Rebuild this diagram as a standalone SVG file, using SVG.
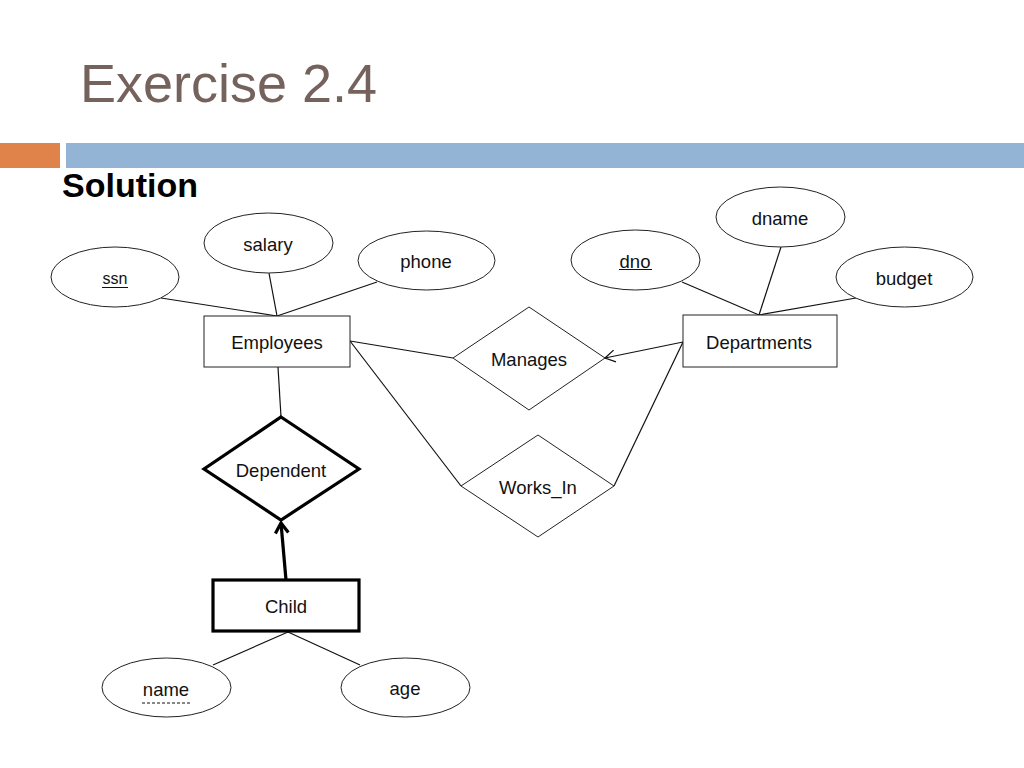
<svg xmlns="http://www.w3.org/2000/svg" width="1024" height="768" viewBox="0 0 1024 768">
<style>
.t{font-family:"Liberation Sans",Arial,sans-serif;font-size:18.5px;fill:#111;text-anchor:middle;dominant-baseline:central}
.n{fill:#fff;stroke:#222;stroke-width:1}
.k{fill:#fff;stroke:#000;stroke-width:3.2}
.c{stroke:#111;stroke-width:1.2;fill:none}
.ck{stroke:#000;stroke-width:3.2;fill:none}
</style>
<defs>
<marker id="av" markerUnits="userSpaceOnUse" markerWidth="20" markerHeight="20" refX="10" refY="10" orient="auto" viewBox="0 0 20 20" overflow="visible">
<path d="M0 4 L10 10 L0 16" fill="none" stroke="#111" stroke-width="1.3"/>
</marker>
<marker id="avk" markerUnits="userSpaceOnUse" markerWidth="24" markerHeight="24" refX="11" refY="12" orient="auto" viewBox="0 0 24 24" overflow="visible">
<path d="M1 5.5 L11 12 L1 18.5" fill="none" stroke="#000" stroke-width="3.2"/>
</marker>
</defs>
<rect width="1024" height="768" fill="#fff"/>
<text x="80" y="102" font-family="Liberation Sans,Arial,sans-serif" font-size="54" fill="#76625c">Exercise 2.4</text>
<rect x="0" y="143" width="60" height="25" fill="#e0834a"/>
<rect x="66" y="143" width="958" height="25" fill="#94b4d6"/>
<text x="62" y="197" font-family="Liberation Sans,Arial,sans-serif" font-size="34" font-weight="bold" fill="#000">Solution</text>

<g id="connectors">
<line class="c" x1="161" y1="298" x2="277" y2="316"/>
<line class="c" x1="269" y1="273" x2="277" y2="316"/>
<line class="c" x1="377" y1="282" x2="277" y2="316"/>
<line class="c" x1="682" y1="282" x2="759" y2="315"/>
<line class="c" x1="781" y1="247" x2="759" y2="315"/>
<line class="c" x1="856" y1="298" x2="759" y2="315"/>
<line class="c" x1="350" y1="341" x2="453" y2="358"/>
<line class="c" x1="683" y1="342" x2="605" y2="358" marker-end="url(#av)"/>
<line class="c" x1="350" y1="341" x2="461" y2="486"/>
<line class="c" x1="683" y1="342" x2="614" y2="486"/>
<line class="c" x1="278" y1="367" x2="281" y2="417"/>
<line class="ck" x1="286" y1="580" x2="281" y2="523" marker-end="url(#avk)"/>
<line class="c" x1="288" y1="632" x2="213" y2="665"/>
<line class="c" x1="288" y1="632" x2="360" y2="665"/>
</g>

<g id="ssn"><ellipse class="n" cx="115" cy="277" rx="64" ry="30"/><text class="t" x="115" y="278" style="font-size:16px">ssn</text><line x1="102" y1="287.5" x2="128" y2="287.5" stroke="#111" stroke-width="1"/></g>
<g id="salary"><ellipse class="n" cx="268.5" cy="243" rx="64.5" ry="30"/><text class="t" x="268" y="244">salary</text></g>
<g id="phone"><ellipse class="n" cx="426.5" cy="260.5" rx="68.5" ry="29.5"/><text class="t" x="426" y="261">phone</text></g>
<g id="employees"><rect class="n" x="204" y="316" width="146" height="51"/><text class="t" x="277" y="342">Employees</text></g>

<g id="dname"><ellipse class="n" cx="780.5" cy="217" rx="64.5" ry="30"/><text class="t" x="780" y="218">dname</text></g>
<g id="dno"><ellipse class="n" cx="635.5" cy="260" rx="64.5" ry="30"/><text class="t" x="635" y="261">dno</text><line x1="619" y1="269.5" x2="652" y2="269.5" stroke="#111" stroke-width="1"/></g>
<g id="budget"><ellipse class="n" cx="904.5" cy="277" rx="68.5" ry="30"/><text class="t" x="904" y="278">budget</text></g>
<g id="departments"><rect class="n" x="683" y="315" width="154" height="52"/><text class="t" x="759" y="342">Departments</text></g>

<g id="manages"><polygon class="n" points="529,307 605,358 529,410 453,358"/><text class="t" x="529" y="359">Manages</text></g>
<g id="works_in"><polygon class="n" points="538,435 614,486 538,537 461,486"/><text class="t" x="538" y="487">Works_In</text></g>
<g id="dependent"><polygon class="k" points="281,417 359,469 281,520 204,469"/><text class="t" x="281" y="470">Dependent</text></g>
<g id="child"><rect class="k" x="213" y="580" width="146" height="51"/><text class="t" x="286" y="606">Child</text></g>

<g id="name"><ellipse class="n" cx="166.5" cy="687.5" rx="64.5" ry="29.5"/><text class="t" x="166" y="689">name</text><line x1="142" y1="703" x2="190" y2="703" stroke="#111" stroke-width="1" stroke-dasharray="3,2"/></g>
<g id="age"><ellipse class="n" cx="405.5" cy="687.5" rx="64.5" ry="29.5"/><text class="t" x="405" y="688">age</text></g>
</svg>
